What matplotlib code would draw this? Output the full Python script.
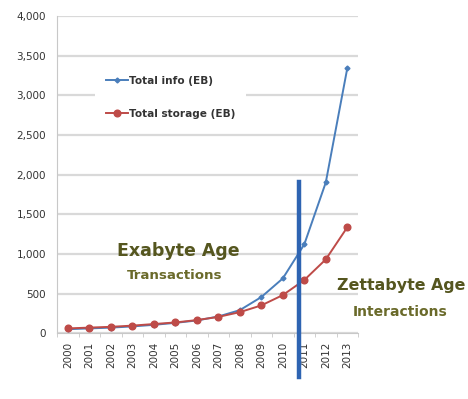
import numpy as np
import matplotlib.pyplot as plt
from matplotlib.ticker import FuncFormatter, FixedLocator

plt.rcParams['font.family'] = ['DejaVu Sans']

years = ['2000', '2001', '2002', '2003', '2004', '2005', '2006',
         '2007', '2008', '2009', '2010', '2011', '2012', '2013']
total_info = [50, 60, 70, 85, 105, 130, 160, 210, 290, 455, 690, 1120, 1900, 3340]
total_storage = [60, 70, 80, 95, 115, 135, 165, 205, 265, 350, 480, 670, 930, 1335]
divider_year = 10.75

x = np.arange(len(years))

fig = plt.figure(figsize=(4.68, 3.99), dpi=100)
ax = fig.add_axes([0.122, 0.165, 0.643, 0.795])

ax.plot(x, total_info, color='#4a7ebb', lw=1.4, marker='D', ms=2.5,
        label='Total info (EB)', zorder=3)
ax.plot(x, total_storage, color='#be4b48', lw=1.4, marker='o', ms=4.8,
        label='Total storage (EB)', zorder=3)

ax.set_xlim(-0.5, len(years) - 0.5)
ax.set_ylim(0, 4000)
ax.set_yticks(np.arange(0, 4001, 500))
ax.yaxis.set_major_formatter(FuncFormatter(lambda v, p: f'{int(v):,}'))
ax.grid(axis='y', color='#d9d9d9', lw=1.6, zorder=0)
ax.set_axisbelow(True)

ax.set_xticks(x)
ax.set_xticklabels(years, rotation=90, fontsize=7.5, color='#333333')
ax.xaxis.set_minor_locator(FixedLocator(np.arange(-0.5, len(years), 1)))
ax.tick_params(axis='x', which='major', length=0, pad=6)
ax.tick_params(axis='x', which='minor', length=3, color='#c8c8c8')
ax.tick_params(axis='y', length=0, labelsize=7.5, labelcolor='#333333', pad=8)

for s in ['top', 'right']:
    ax.spines[s].set_visible(False)
ax.spines['left'].set_color('#c8c8c8')
ax.spines['bottom'].set_color('#c8c8c8')

leg = ax.legend(loc='center left', bbox_to_anchor=(0.126, 0.743),
                prop={'size': 7.6, 'weight': 'bold'},
                frameon=True, facecolor='white', edgecolor='none', framealpha=1,
                labelspacing=2.2, handlelength=2.1, handletextpad=0.1,
                borderpad=1.0, borderaxespad=0)
for t in leg.get_texts():
    t.set_color('#333333')

ax.plot([divider_year, divider_year], [1900, -550], color='#2e64b2', lw=3.2,
        clip_on=False, zorder=4)

ax.text(5.15, 1030, 'Exabyte Age', ha='center', va='center', fontsize=12.5,
        fontweight='bold', color='#55561f')
ax.text(4.95, 730, 'Transactions', ha='center', va='center', fontsize=9.6,
        fontweight='bold', color='#6a6a2a')
ax.text(15.5, 605, 'Zettabyte Age', ha='center', va='center', fontsize=11.4,
        fontweight='bold', color='#55561f', clip_on=False)
ax.text(15.45, 265, 'Interactions', ha='center', va='center', fontsize=10,
        fontweight='bold', color='#6a6a2a', clip_on=False)

fig.savefig('out.png', dpi=100)
